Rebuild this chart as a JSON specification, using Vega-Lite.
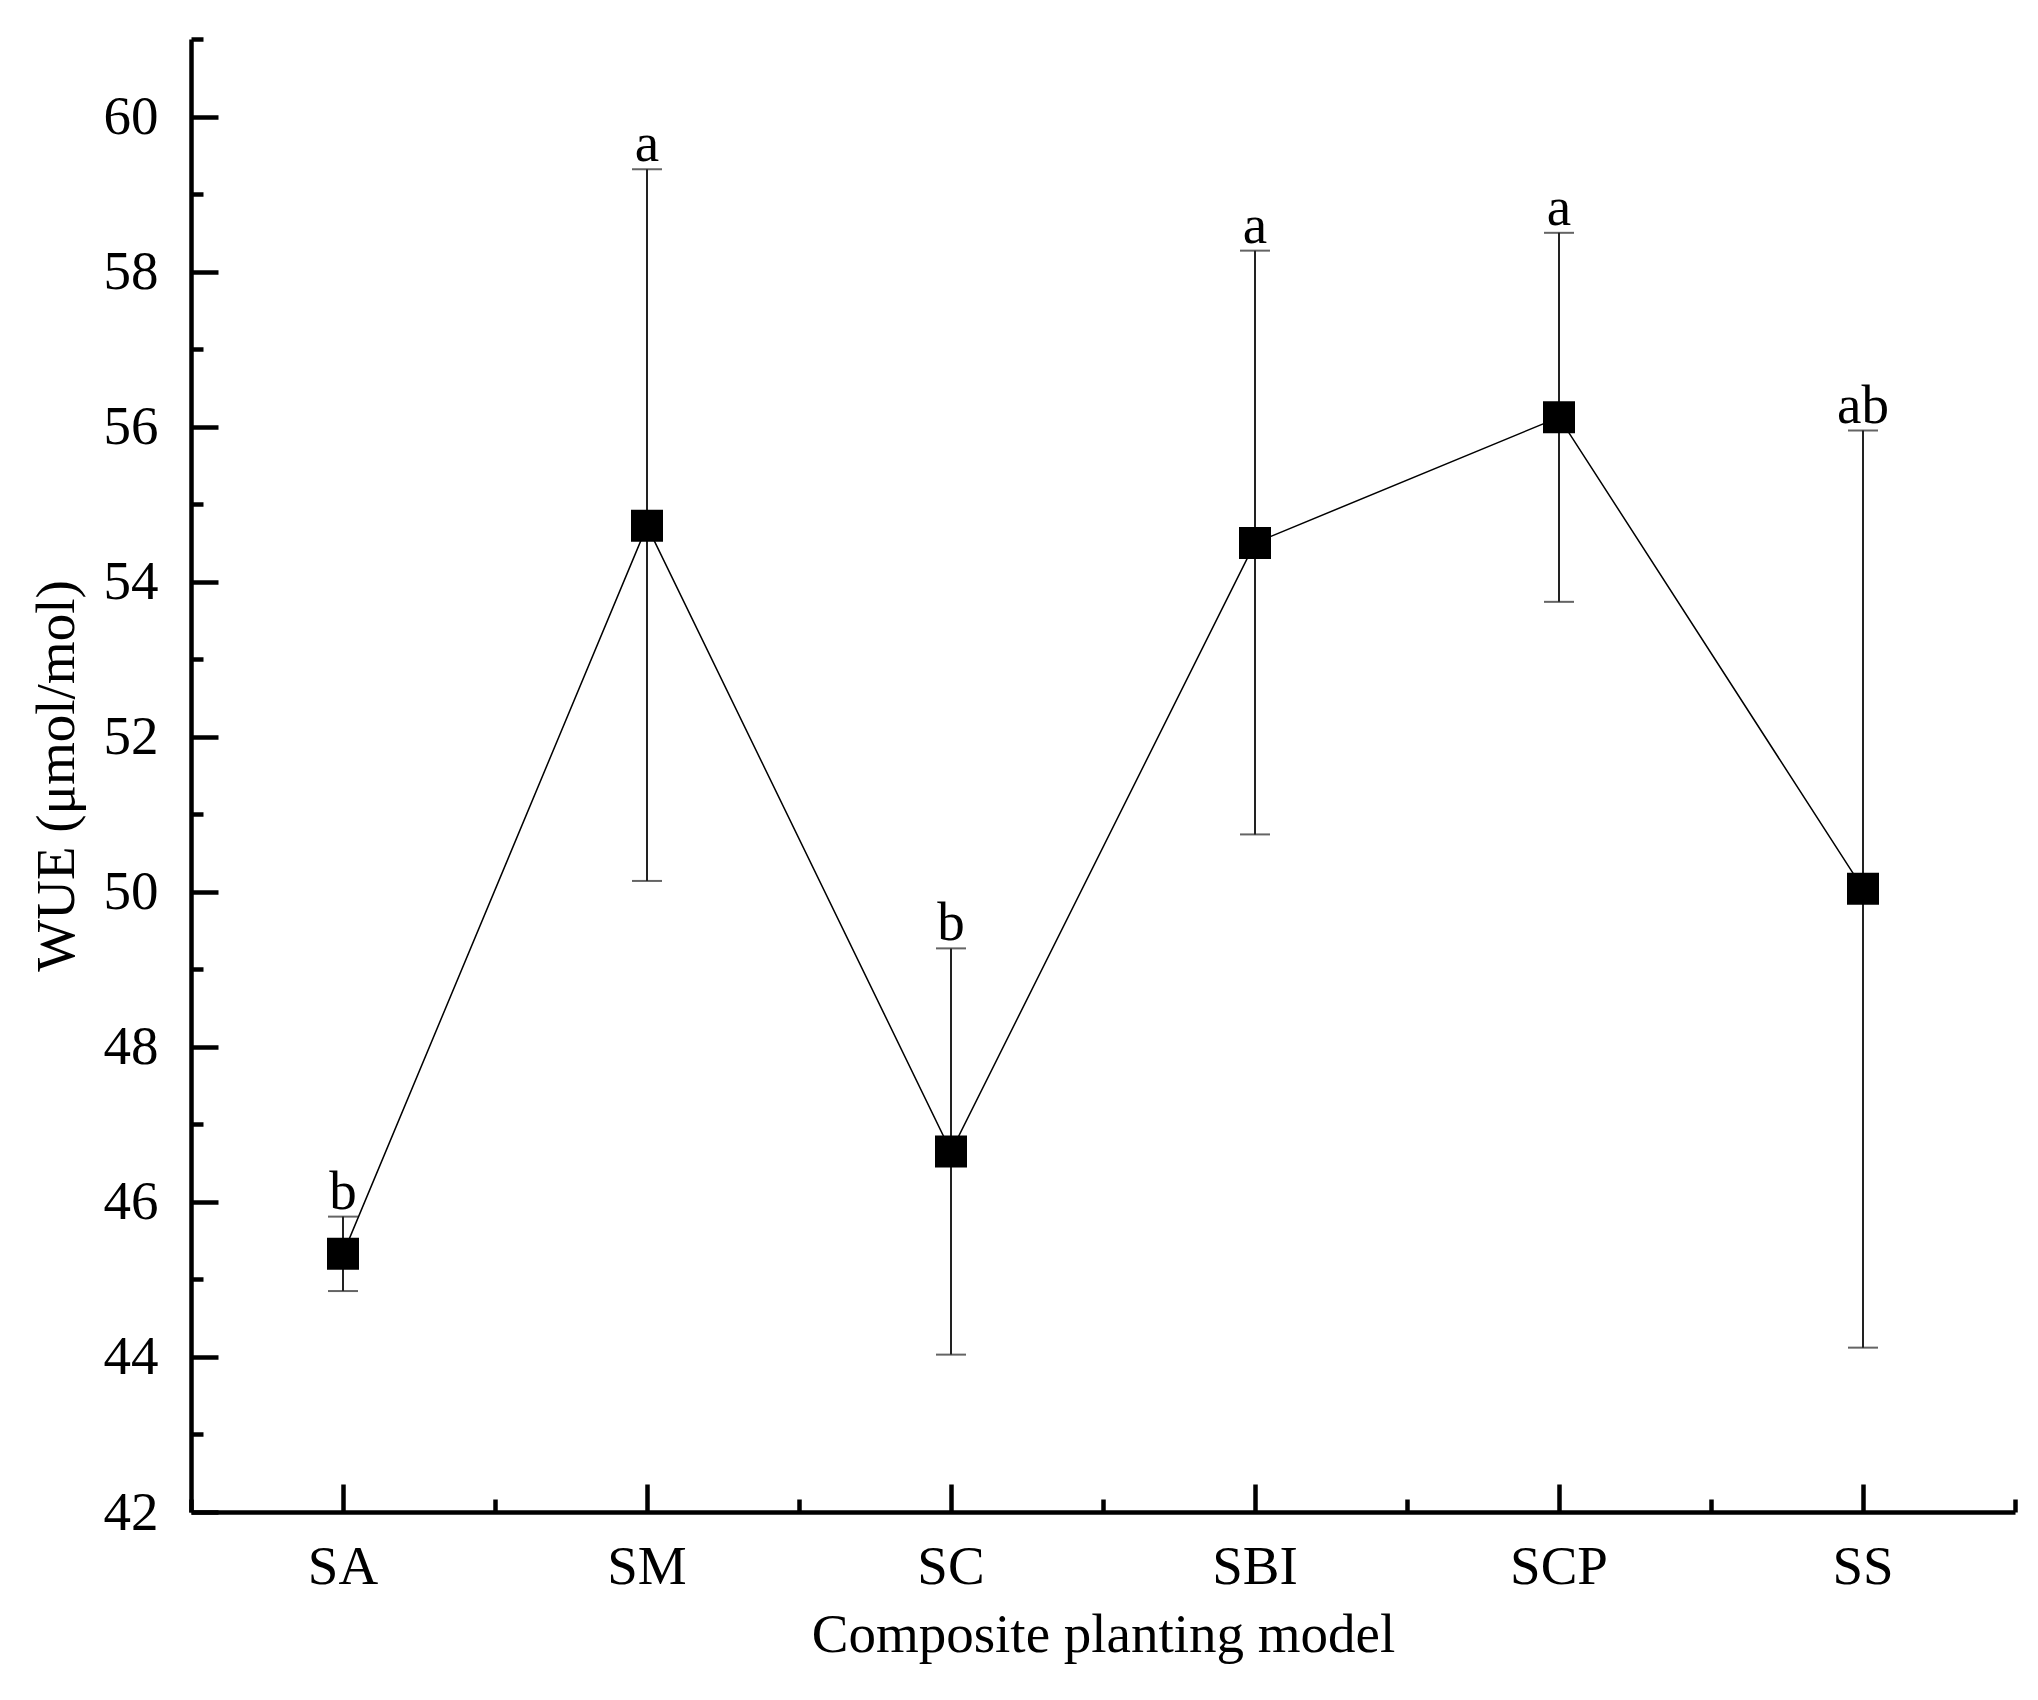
{
  "$schema": "https://vega.github.io/schema/vega-lite/v6.json",
  "width": 1824,
  "height": 1473,
  "autosize": {"type": "none"},
  "padding": {"left": 191, "top": 39, "right": 23, "bottom": 188},
  "background": "white",
  "config": {
    "view": {"stroke": null},
    "font": "Liberation Serif",
    "axis": {
      "domainColor": "black",
      "domainWidth": 4.5,
      "tickColor": "black",
      "tickWidth": 4.5,
      "grid": false,
      "labelFont": "Liberation Serif",
      "labelFontSize": 55,
      "labelColor": "black",
      "titleFont": "Liberation Serif",
      "titleFontSize": 55,
      "titleFontWeight": "normal",
      "titleColor": "black"
    }
  },
  "data": {
    "values": [
      {"model": "SA", "mean": 45.33, "lo": 44.85, "hi": 45.81, "sig": "b"},
      {"model": "SM", "mean": 54.72, "lo": 50.14, "hi": 59.32, "sig": "a"},
      {"model": "SC", "mean": 46.65, "lo": 44.03, "hi": 49.27, "sig": "b"},
      {"model": "SBI", "mean": 54.5, "lo": 50.74, "hi": 58.27, "sig": "a"},
      {"model": "SCP", "mean": 56.12, "lo": 53.74, "hi": 58.5, "sig": "a"},
      {"model": "SS", "mean": 50.04, "lo": 44.12, "hi": 55.95, "sig": "ab"}
    ]
  },
  "layer": [
    {
      "mark": {"type": "line", "color": "black", "strokeWidth": 1.5},
      "encoding": {
        "x": {
          "field": "model", "type": "nominal", "sort": null,
          "scale": {"type": "band", "paddingInner": 0, "paddingOuter": 0},
          "axis": {"orient": "bottom", "tickBand": "extent", "tickSize": -13, "labels": false, "title": null, "domain": false}
        },
        "y": {
          "field": "mean", "type": "quantitative",
          "scale": {"domain": [42, 61], "nice": false, "zero": false},
          "axis": {"orient": "left", "values": [43, 45, 47, 49, 51, 53, 55, 57, 59, 61], "tickSize": -12, "labels": false, "title": null, "domain": false}
        }
      }
    },
    {
      "mark": {"type": "rule", "color": "#222222", "strokeWidth": 2},
      "encoding": {
        "x": {"field": "model", "type": "nominal", "sort": null, "axis": null},
        "y": {"field": "lo", "type": "quantitative", "axis": null},
        "y2": {"field": "hi"}
      }
    },
    {
      "mark": {"type": "tick", "color": "#222222", "thickness": 2, "size": 30},
      "encoding": {
        "x": {"field": "model", "type": "nominal", "sort": null, "axis": null},
        "y": {"field": "hi", "type": "quantitative", "axis": null}
      }
    },
    {
      "mark": {"type": "tick", "color": "#222222", "thickness": 2, "size": 30},
      "encoding": {
        "x": {"field": "model", "type": "nominal", "sort": null, "axis": null},
        "y": {"field": "lo", "type": "quantitative", "axis": null}
      }
    },
    {
      "mark": {"type": "point", "shape": "square", "filled": true, "color": "black", "opacity": 1, "size": 1024},
      "encoding": {
        "x": {
          "field": "model", "type": "nominal", "sort": null,
          "axis": {"orient": "bottom", "tickSize": -28, "labelPadding": 56, "labelAngle": 0, "title": "Composite planting model", "titlePadding": 14}
        },
        "y": {
          "field": "mean", "type": "quantitative",
          "axis": {"orient": "left", "values": [42, 44, 46, 48, 50, 52, 54, 56, 58, 60], "tickSize": -27, "labelPadding": 60, "title": "WUE (μmol/mol)", "titlePadding": 18}
        }
      }
    },
    {
      "mark": {"type": "text", "font": "Liberation Serif", "fontSize": 55, "color": "black", "baseline": "alphabetic", "dy": -8},
      "encoding": {
        "x": {"field": "model", "type": "nominal", "sort": null, "axis": null},
        "y": {"field": "hi", "type": "quantitative", "axis": null},
        "text": {"field": "sig"}
      }
    }
  ],
  "resolve": {"axis": {"x": "independent", "y": "independent"}}
}
